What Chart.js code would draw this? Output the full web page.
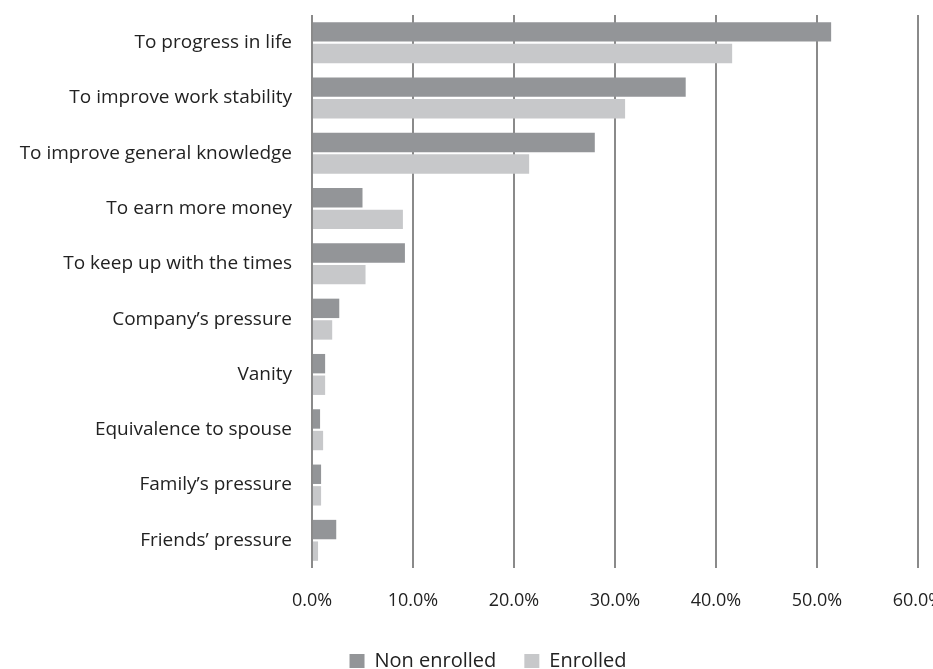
<!DOCTYPE html>
<html>
<head>
<meta charset="utf-8">
<script src="https://cdn.jsdelivr.net/npm/chart.js@4/dist/chart.umd.min.js"></script>
<style>
    html, body { margin: 0; padding: 0; background: #fff; }
    #wrap { width: 933px; height: 669px; }
</style>
</head>
<body>
<div id="wrap"><canvas id="bar-plot" width="933" height="669"></canvas></div>
<script>
const categories = ['To progress in life', 'To improve work stability', 'To improve general knowledge',
    'To earn more money', 'To keep up with the times', 'Company\u2019s pressure', 'Vanity',
    'Equivalence to spouse', 'Family\u2019s pressure', 'Friends\u2019 pressure'];
const nonEnrolled = [51.4, 37.0, 28.0, 5.0, 9.2, 2.7, 1.3, 0.8, 0.9, 2.4];
const enrolled = [41.6, 31.0, 21.5, 9.0, 5.3, 2.0, 1.3, 1.1, 0.9, 0.6];
const seriesNames = ['Non enrolled', 'Enrolled'];

const family = "'Open Sans', 'Liberation Sans', sans-serif";

// legend sits a bit right of the canvas centre in the original
const legendShift = {
    id: 'legendShift',
    afterLayout(chart) {
        chart.legend.left += 43;
    }
};

let ctx = document.getElementById('bar-plot').getContext('2d');
let ch = new Chart(ctx, {
    type: 'bar',
    data: {
        labels: categories,
        datasets: [{
            label: seriesNames[0],
            data: nonEnrolled,
            backgroundColor: '#939598',
            categoryPercentage: 0.78,
            barPercentage: 0.9
        }, {
            label: seriesNames[1],
            data: enrolled,
            backgroundColor: '#c7c8ca',
            categoryPercentage: 0.78,
            barPercentage: 0.9
        }]
    },
    options: {
        indexAxis: 'y',
        responsive: false,
        animation: false,
        layout: { padding: { top: 15, right: 0, left: 0, bottom: -12 } },
        scales: {
            x: {
                min: 0,
                max: 60,
                ticks: {
                    stepSize: 10,
                    color: '#222',
                    font: { family: family, size: 18 },
                    padding: 22,
                    callback: v => v.toFixed(1) + '%'
                },
                grid: { color: '#8a8a8a', lineWidth: 2, drawTicks: false },
                border: { display: false },
                afterFit(s) {
                    s.paddingRight = 15;
                    s.height = 55;
                }
            },
            y: {
                ticks: { color: '#222', font: { family: family, size: 19 }, padding: 12 },
                grid: { display: false },
                border: { display: false },
                afterFit(s) {
                    s.width = 312;
                    s.paddingTop = 0;
                    s.paddingBottom = 0;
                }
            }
        },
        plugins: {
            legend: {
                position: 'bottom',
                labels: {
                    color: '#222',
                    font: { family: family, size: 20 },
                    boxWidth: 15,
                    boxHeight: 14,
                    padding: 28
                }
            },
            tooltip: { enabled: false }
        }
    },
    plugins: [legendShift]
});
</script>
</body>
</html>
